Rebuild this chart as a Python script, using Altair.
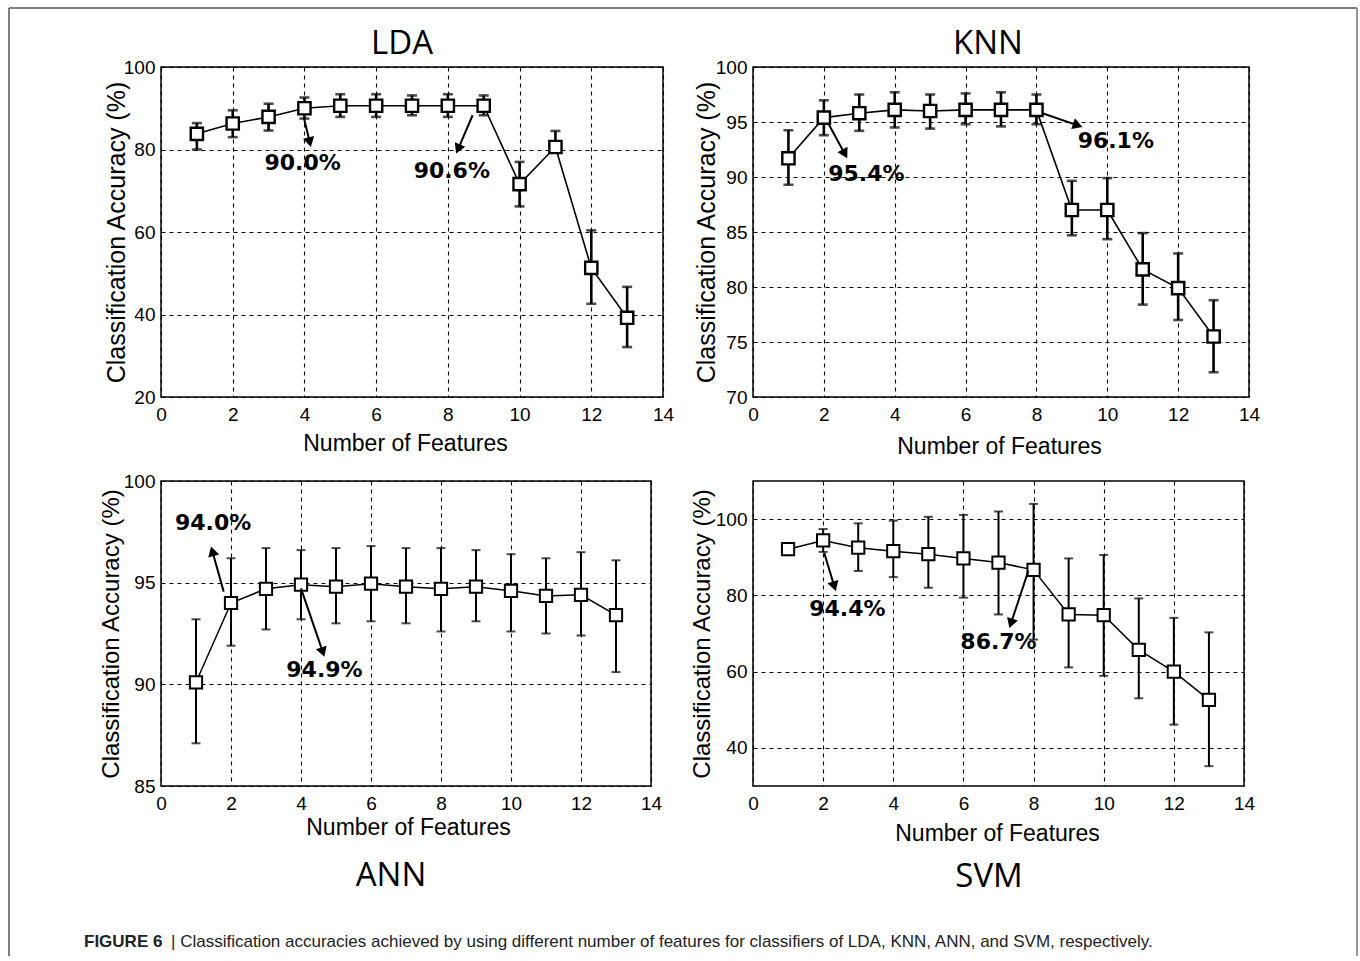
import math
import altair as alt
import pandas as pd

features = list(range(1, 14))
x_ticks = [0, 2, 4, 6, 8, 10, 12, 14]

# LDA
lda_mean = [83.8, 86.3, 87.9, 90.0, 90.6, 90.6, 90.6, 90.6, 90.6, 71.6, 80.6, 51.3, 39.2]
lda_hi = [86.4, 89.5, 91.1, 92.6, 93.4, 93.4, 93.1, 93.4, 93.1, 77.0, 84.5, 60.4, 46.7]
lda_lo = [80.0, 83.0, 84.6, 87.5, 87.9, 87.9, 88.3, 87.9, 88.3, 66.2, 79.4, 42.6, 32.1]
lda_yticks = [20, 40, 60, 80, 100]

# KNN
knn_mean = [91.7, 95.4, 95.8, 96.1, 96.0, 96.1, 96.1, 96.1, 87.0, 87.0, 81.6, 79.9, 75.5]
knn_hi = [94.25, 96.97, 97.5, 97.7, 97.5, 97.6, 97.7, 97.5, 89.65, 89.9, 84.9, 83.05, 78.8]
knn_lo = [89.3, 93.8, 94.2, 94.5, 94.4, 94.8, 94.6, 94.8, 84.7, 84.35, 78.4, 77.0, 72.25]
knn_yticks = [70, 75, 80, 85, 90, 95, 100]

# ANN
ann_mean = [90.1, 94.0, 94.7, 94.9, 94.8, 94.95, 94.8, 94.7, 94.8, 94.6, 94.35, 94.4, 93.4]
ann_hi = [93.2, 96.2, 96.7, 96.6, 96.7, 96.8, 96.7, 96.7, 96.6, 96.4, 96.2, 96.5, 96.1]
ann_lo = [87.1, 91.9, 92.7, 93.2, 93.0, 93.1, 93.0, 92.6, 93.1, 92.6, 92.5, 92.4, 90.6]
ann_yticks = [85, 90, 95, 100]

# SVM
svm_mean = [92.1, 94.4, 92.5, 91.6, 90.8, 89.7, 88.6, 86.7, 75.0, 74.8, 65.7, 60.0, 52.6]
svm_hi = [93.2, 97.4, 98.9, 99.6, 100.6, 101.1, 102.0, 104.0, 89.7, 90.6, 79.2, 74.1, 70.3]
svm_lo = [91.0, 91.4, 86.4, 84.8, 82.0, 79.4, 75.0, 68.4, 61.1, 58.9, 53.0, 46.1, 35.2]
svm_yticks = [40, 60, 80, 100]

# annotations: label, text x, text y, arrow start x, y, arrow end x, y (data units)
lda_ann_label = ["90.0%", "90.6%"]
lda_ann_tx = [3.95, 8.11]
lda_ann_ty = [76.8, 74.7]
lda_arrow = [(3.98, 87.9, 4.18, 80.6), (8.69, 88.3, 8.23, 79.0)]

knn_ann_label = ["95.4%", "96.1%"]
knn_ann_tx = [3.20, 10.24]
knn_ann_ty = [90.24, 93.27]
knn_arrow = [(2.13, 94.85, 2.66, 91.7), (8.17, 95.8, 9.30, 94.55)]

ann_ann_label = ["94.0%", "94.9%"]
ann_ann_tx = [1.49, 4.67]
ann_ann_ty = [97.93, 90.7]
ann_arrow = [(1.79, 94.56, 1.43, 96.78), (4.0, 94.72, 4.67, 91.35)]

svm_ann_label = ["94.4%", "86.7%"]
svm_ann_tx = [2.69, 7.0]
svm_ann_ty = [76.5, 67.7]
svm_arrow = [(2.03, 91.2, 2.36, 81.1), (7.85, 86.4, 7.31, 71.4)]

caption_bold = "FIGURE 6"
caption_text = "| Classification accuracies achieved by using different number of features for classifiers of LDA, KNN, ANN, and SVM, respectively."

SANS = "Liberation Sans"
ANNOT_FONT = "DejaVu Sans"
TITLE_FONT = "Open Sans"

one = pd.DataFrame({"k": [0]})


def make_panel(name, mean, lo, hi, ydom, yticks, w, h, labels, tx, ty, arrows,
               title_xy, ytitle_x, xtitle_x, xtitle_y, yfs,
               mk_w=2.4, bar_w=2.6, cap=10, line_w=1.6):
    xs = alt.Scale(domain=[0, 14], nice=False, zero=False)
    ys = alt.Scale(domain=ydom, nice=False, zero=False)
    xaxis = alt.Axis(values=x_ticks, title="Number of Features", labelFlush=False,
                     titleX=xtitle_x, titleY=xtitle_y, titleBaseline="middle",
                     labelPadding=8)
    yaxis = alt.Axis(values=yticks, title="Classification Accuracy (%)",
                     titleX=ytitle_x, titleBaseline="middle", labelPadding=6,
                     titleFontSize=yfs)

    def X(f):
        return alt.X(f + ":Q", scale=xs, axis=xaxis)

    def Y(f):
        return alt.Y(f + ":Q", scale=ys, axis=yaxis)

    df = pd.DataFrame({"f": features, "m": mean, "lo": lo, "hi": hi})
    caps = pd.DataFrame({"f": features * 2, "v": hi + lo})

    px_x = w / 14.0
    px_y = h / float(ydom[1] - ydom[0])
    rows = []
    for (x0, y0, x1, y1) in arrows:
        dxs = (x1 - x0) * px_x
        dys = -(y1 - y0) * px_y
        ln = math.hypot(dxs, dys)
        ux, uy = dxs / ln, dys / ln
        ang = math.degrees(math.atan2(dxs, -dys)) % 360
        hx = x1 - ux * 5 / px_x
        hy = y1 + uy * 5 / px_y
        rows.append({"x0": x0, "y0": y0, "x1": hx, "y1": hy, "ang": ang})
    arr = pd.DataFrame(rows)
    txt = pd.DataFrame({"tx": tx, "ty": ty, "label": labels})

    bars = alt.Chart(df).mark_rule(color="black", strokeWidth=bar_w).encode(
        x=X("f"), y=Y("lo"), y2="hi")
    capm = alt.Chart(caps).mark_tick(color="black", orient="horizontal", size=cap,
                                     thickness=bar_w).encode(x=X("f"), y=Y("v"))
    line = alt.Chart(df).mark_line(color="black", strokeWidth=line_w).encode(
        x=X("f"), y=Y("m"))
    pts = alt.Chart(df).mark_point(shape="square", filled=True, fill="white",
                                   stroke="black", strokeWidth=mk_w, size=150,
                                   opacity=1).encode(x=X("f"), y=Y("m"))
    arl = alt.Chart(arr).mark_rule(color="black", strokeWidth=2).encode(
        x=X("x0"), y=Y("y0"), x2="x1", y2="y1")
    heads = alt.Chart(arr).mark_point(shape="triangle-up", filled=True, color="black",
                                      size=130, opacity=1).encode(
        x=X("x1"), y=Y("y1"), angle=alt.Angle("ang:Q", scale=None))
    texts = alt.Chart(txt).mark_text(font=ANNOT_FONT, fontWeight="bold", fontSize=22,
                                     color="black", baseline="middle").encode(
        x=X("tx"), y=Y("ty"), text="label:N")
    ttl = alt.Chart(pd.DataFrame({"t": [name]})).mark_text(
        font=TITLE_FONT, fontSize=33, color="black", align="center",
        baseline="alphabetic").encode(x=alt.value(title_xy[0]), y=alt.value(title_xy[1]),
                                      text="t:N")

    layers = [bars, capm, line, pts, arl, heads, texts, ttl]
    return layers, dict(width=w, height=h)


lda_layers, lda_props = make_panel("LDA", lda_mean, lda_lo, lda_hi, [20, 100], lda_yticks,
                                   502, 330, lda_ann_label, lda_ann_tx, lda_ann_ty, lda_arrow,
                                   (241, -13), -45, 244, 46, 25)
knn_layers, knn_props = make_panel("KNN", knn_mean, knn_lo, knn_hi, [70, 100], knn_yticks,
                                   496, 330, knn_ann_label, knn_ann_tx, knn_ann_ty, knn_arrow,
                                   (235, -13), -47, 246, 49, 25)
ann_layers, ann_props = make_panel("ANN", ann_mean, ann_lo, ann_hi, [85, 100], ann_yticks,
                                   490, 305, ann_ann_label, ann_ann_tx, ann_ann_ty, ann_arrow,
                                   (230, 405), -50, 247, 41, 24,
                                   mk_w=2, bar_w=2, cap=9, line_w=1.5)
svm_layers, svm_props = make_panel("SVM", svm_mean, svm_lo, svm_hi, [30, 110], svm_yticks,
                                   491, 305, svm_ann_label, svm_ann_tx, svm_ann_ty, svm_arrow,
                                   (236, 406), -51, 244, 47, 24,
                                   mk_w=2, bar_w=2, cap=9, line_w=1.5)

# outer frame and caption, positioned relative to the LDA plot origin
frame_left = alt.Chart(one).mark_rule(color="#555555", strokeWidth=1.5).encode(
    x=alt.value(-152), y=alt.value(-59), y2=alt.value(889))
frame_top = alt.Chart(one).mark_rule(color="#555555", strokeWidth=1.5).encode(
    x=alt.value(-152), x2=alt.value(1196), y=alt.value(-59))
frame_right = alt.Chart(one).mark_rule(color="#777777", strokeWidth=1.5).encode(
    x=alt.value(1196), y=alt.value(-59), y2=alt.value(889))
cap1 = alt.Chart(pd.DataFrame({"t": [caption_bold]})).mark_text(
    font=SANS, fontSize=17, fontWeight="bold", align="left", baseline="middle", color="#222222"
).encode(x=alt.value(-77), y=alt.value(875), text="t:N")
cap2 = alt.Chart(pd.DataFrame({"t": [caption_text]})).mark_text(
    font=SANS, fontSize=17, align="left", baseline="middle", color="#222222"
).encode(x=alt.value(10), y=alt.value(875), text="t:N")

lda = alt.layer(*lda_layers, frame_left, frame_top, frame_right, cap1, cap2).properties(**lda_props)
knn = alt.layer(*knn_layers).properties(**knn_props)
ann = alt.layer(*ann_layers).properties(**ann_props)
svm = alt.layer(*svm_layers).properties(**svm_props)

chart = alt.concat(lda, knn, ann, svm, columns=2, spacing={"row": 84, "column": 90},
                   bounds="flush").properties(
    padding={"left": 7, "top": 6, "right": 0, "bottom": 0},
    background="white",
).configure_view(stroke="black", strokeWidth=1.5).configure_axis(
    grid=True, gridColor="black", gridDash=[4, 4], gridWidth=1.1, gridOpacity=1,
    domain=False, ticks=False,
    labelFont=SANS, labelFontSize=19, labelColor="black",
    titleFont=SANS, titleFontSize=23, titleFontWeight="normal", titleColor="black",
)

chart.save("out.html", embed_options={"renderer": "svg", "actions": False})
